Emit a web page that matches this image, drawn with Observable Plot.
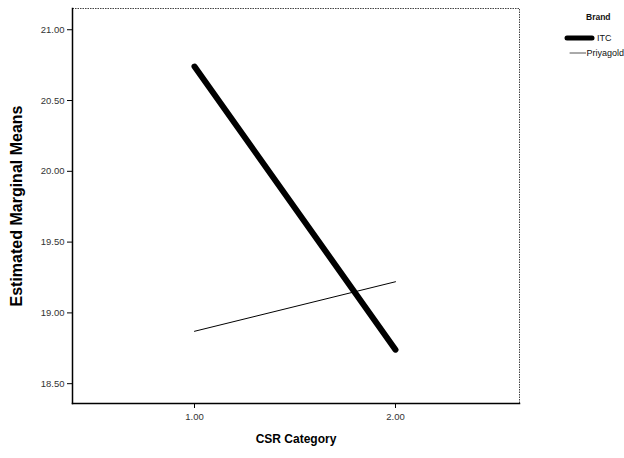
<!DOCTYPE html>
<html>
<head>
<meta charset="utf-8">
<script src="https://cdn.jsdelivr.net/npm/d3@7"></script>
<script src="https://cdn.jsdelivr.net/npm/@observablehq/plot@0.6"></script>
<style>
  html, body { margin: 0; padding: 0; background: #fff; overflow: hidden; }
  #wrap { position: relative; width: 624px; height: 458px; font-family: "Liberation Sans", Arial, sans-serif; }
  #legend { position: absolute; left: 560px; top: 12px; width: 64px; overflow: hidden; font-size: 9px; color: #111; white-space: nowrap; }
  #legend .title { margin-left: 26px; font-weight: bold; font-size: 8.5px; margin-bottom: 8px; }
  #legend .row { display: flex; align-items: center; height: 15px; }
  #legend svg { display: block; }
</style>
</head>
<body>
<div id="wrap"></div>
<script>
const categories = [1, 2];
const brands = ["ITC", "Priyagold"];
const itcMeans = [20.74, 18.74];
const priyaMeans = [18.87, 19.22];
const yTicks = [18.5, 19.0, 19.5, 20.0, 20.5, 21.0];
const xTicks = [1, 2];
const xRange = [0.393, 2.617];
const yRange = [18.36, 21.15];
const xLabel = "CSR Category";
const yLabel = "Estimated Marginal Means";
const legendTitle = "Brand";

const data = [
  ...categories.map((c, i) => ({csr: c, mean: itcMeans[i], brand: brands[0]})),
  ...categories.map((c, i) => ({csr: c, mean: priyaMeans[i], brand: brands[1]}))
];

const chart = Plot.plot({
  width: 624,
  height: 458,
  marginLeft: 72,
  marginRight: 105,
  marginTop: 8,
  marginBottom: 55,
  style: {fontFamily: "'Liberation Sans', Arial, sans-serif", background: "#fff"},
  x: {domain: xRange, ticks: xTicks, tickFormat: d3.format(".2f")},
  y: {domain: yRange, ticks: yTicks, tickFormat: d3.format(".2f")},
  marks: [
    Plot.frame({stroke: "#444", strokeDasharray: "1.5,1", strokeWidth: 1}),
    Plot.frame({anchor: "left", stroke: "#000", strokeWidth: 1.5}),
    Plot.frame({anchor: "bottom", stroke: "#000", strokeWidth: 1.5}),
    Plot.axisX({ticks: xTicks, tickFormat: d3.format(".2f"), tickSize: 5, tickPadding: 5, fontSize: 9.5, color: "#000", fill: "#333", label: null}),
    Plot.axisY({ticks: yTicks, tickFormat: d3.format(".2f"), tickSize: 5, tickPadding: 3, fontSize: 9.5, color: "#000", fill: "#333", label: null}),
    Plot.text([xLabel], {frameAnchor: "bottom", dy: 39, fontSize: 12, fontWeight: "bold", fill: "#000"}),
    Plot.text([yLabel], {frameAnchor: "left", rotate: -90, dx: -56, textAnchor: "middle", fontSize: 16, fontWeight: "bold", fill: "#000"}),
    Plot.line(data.filter(d => d.brand === brands[1]), {x: "csr", y: "mean", stroke: "#000", strokeWidth: 1}),
    Plot.line(data.filter(d => d.brand === brands[0]), {x: "csr", y: "mean", stroke: "#000", strokeWidth: 6, strokeLinecap: "round"})
  ]
});

const wrap = document.getElementById("wrap");
wrap.appendChild(chart);

const legend = document.createElement("div");
legend.id = "legend";
const t = document.createElement("div");
t.className = "title";
t.textContent = legendTitle;
legend.appendChild(t);
brands.forEach((b, i) => {
  const row = document.createElement("div");
  row.className = "row";
  const sw = i === 0 ? 5 : 1;
  const x1 = i === 0 ? 7 : 10;
  row.innerHTML = `<svg width="37" height="10"><line x1="${x1}" x2="32" y1="5" y2="5" stroke="${i === 0 ? '#000' : '#555'}" stroke-width="${sw}" stroke-linecap="round"/></svg><span>${b}</span>`;
  legend.appendChild(row);
});
wrap.appendChild(legend);
</script>
</body>
</html>
